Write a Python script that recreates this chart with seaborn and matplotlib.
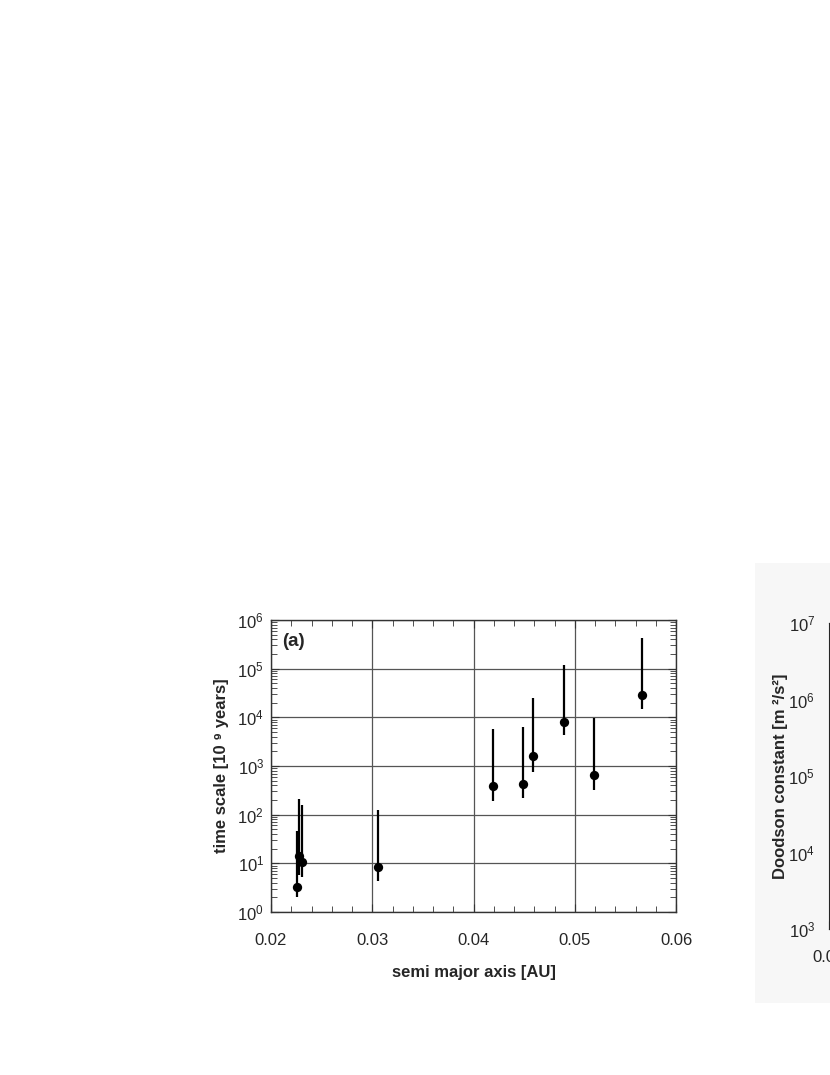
import numpy as np
import pandas as pd
import seaborn as sns
import matplotlib.pyplot as plt
from matplotlib.ticker import MultipleLocator, LogLocator, NullFormatter
from matplotlib.patches import Rectangle

semi_major_axis = [0.02254, 0.0228, 0.0231, 0.0306, 0.0419, 0.0449, 0.0459, 0.0489, 0.0519, 0.0566]
time_scale = [3.2, 14, 10.5, 8.5, 380, 425, 1620, 7900, 660, 29000]
err_low = [2.0, 5.8, 5.2, 4.3, 192, 225, 770, 4250, 318, 15000]
err_high = [47, 212, 155, 125, 5700, 6300, 24500, 117000, 9700, 430000]

x_ticks = [0.02, 0.03, 0.04, 0.05, 0.06]
x_labels = ["0.02", "0.03", "0.04", "0.05", "0.06"]

sns.set_style("ticks")
plt.rcParams['font.family'] = ['Liberation Sans', 'DejaVu Sans']
plt.rcParams['mathtext.default'] = 'regular'

df = pd.DataFrame({"a": semi_major_axis, "t": time_scale,
                   "lo": err_low, "hi": err_high})

fig = plt.figure(figsize=(8.3, 10.75), dpi=100)
W, H = 830, 1075

# fundo cinzento do painel (b), cortado na margem direita
fig.patches.append(Rectangle((755 / W, 1 - 1003 / H), 80 / W, 440 / H,
                             transform=fig.transFigure, facecolor="#f7f7f7",
                             edgecolor="none", zorder=-5))

ax = fig.add_axes([271 / W, 1 - 912 / H, 405 / W, 292 / H])
ax.vlines(df["a"], df["lo"], df["hi"], color="black", linewidth=1.6, zorder=3)
sns.scatterplot(data=df, x="a", y="t", color="black", s=45, edgecolor="black",
                linewidth=0, ax=ax, zorder=4, legend=False)

ax.set_yscale("log")
ax.set_xlim(0.02, 0.06)
ax.set_ylim(1, 1e6)
ax.set_xticks(x_ticks)
ax.set_xticklabels(x_labels)
ax.xaxis.set_minor_locator(MultipleLocator(0.002))
ax.yaxis.set_major_locator(LogLocator(base=10, numticks=10))
ax.yaxis.set_minor_locator(LogLocator(base=10, subs=np.arange(2, 10), numticks=20))
ax.yaxis.set_minor_formatter(NullFormatter())
ax.tick_params(which="both", direction="in", top=True, right=True, labelsize=12,
               color="#333333")
ax.tick_params(which="major", length=6)
ax.tick_params(which="minor", length=4)
ax.tick_params(axis="x", which="major", pad=15)
ax.tick_params(axis="y", which="major", pad=5)
ax.grid(True, which="major", color="#555555", linewidth=0.9)
for s in ax.spines.values():
    s.set_linewidth(1.0)
    s.set_color("#333333")

ax.set_xlabel("semi major axis [AU]", fontsize=12, fontweight="bold", labelpad=12)
ax.set_ylabel("time scale [10 ⁹ years]", fontsize=12, fontweight="bold", labelpad=6)
ax.text(0.027, 0.925, "(a)", transform=ax.transAxes, fontsize=13.5, fontweight="bold",
        va="center", ha="left")

# painel (b), só a margem esquerda fica visível
ax2 = fig.add_axes([829 / W, 1 - 929 / H, 400 / W, 306 / H])
ax2.set_yscale("log")
ax2.set_ylim(1e3, 1e7)
ax2.set_xlim(0.02, 0.06)
ax2.set_xticks(x_ticks)
ax2.set_xticklabels(x_labels)
ax2.yaxis.set_major_locator(LogLocator(base=10, numticks=10))
ax2.yaxis.set_minor_locator(LogLocator(base=10, subs=np.arange(2, 10), numticks=20))
ax2.yaxis.set_minor_formatter(NullFormatter())
ax2.tick_params(which="both", direction="in", labelsize=12, color="#333333")
ax2.tick_params(which="major", length=6)
ax2.tick_params(which="minor", length=4)
ax2.tick_params(axis="y", which="major", pad=10)
ax2.tick_params(axis="x", which="major", pad=15)
ax2.set_facecolor("white")
ax2.set_ylabel("Doodson constant [m ²/s²]", fontsize=12, fontweight="bold", labelpad=0)

fig.savefig("out.png", dpi=100)
